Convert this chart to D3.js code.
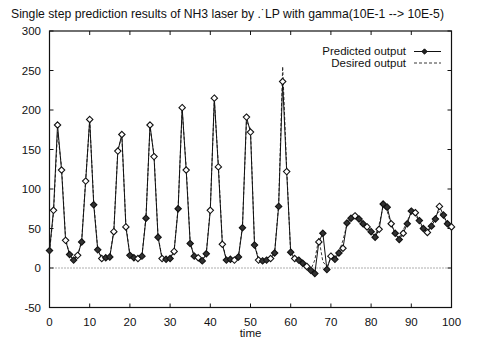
<!DOCTYPE html>
<html>
<head>
<meta charset="utf-8">
<script src="https://cdn.jsdelivr.net/npm/d3@7"></script>
<style>
  html, body { margin: 0; padding: 0; background: #fff; }
  svg { display: block; }
  text { font-family: "Liberation Sans", Arial, sans-serif; fill: #111; }
</style>
</head>
<body>
<svg id="chart" width="499" height="340"></svg>
<script>
const title = "Single step prediction results of NH3 laser by .\u02D9LP with gamma(10E-1 --> 10E-5)";
const xLabel = "time";
const xTicks = [0, 10, 20, 30, 40, 50, 60, 70, 80, 90, 100];
const yTicks = [-50, 0, 50, 100, 150, 200, 250, 300];
const seriesNames = ["Predicted output", "Desired output"];

const predicted = [22, 73, 181, 124, 35, 17, 10, 16, 33, 110,
  188, 80, 23, 12, 13, 14, 46, 148, 169, 52,
  16, 13, 12, 15, 63, 181, 141, 39, 12, 11,
  12, 21, 75, 203, 124, 31, 15, 13, 9, 18,
  73, 215, 128, 30, 10, 11, 10, 14, 51, 191,
  172, 29, 10, 9, 10, 12, 19, 78, 236, 122,
  20, 12, 10, 6, 2, -3, -7, 33, 44, -2,
  15, 11, 19, 25, 57, 63, 66, 62, 56, 52,
  46, 39, 49, 81, 77, 56, 44, 36, 44, 56,
  72, 70, 60, 50, 45, 53, 62, 78, 67, 56, 52];

const desired = [20, 70, 172, 128, 38, 16, 11, 15, 35, 112,
  186, 84, 24, 13, 12, 15, 48, 150, 166, 55,
  17, 12, 13, 16, 65, 178, 144, 40, 13, 10,
  13, 22, 77, 200, 128, 33, 14, 12, 10, 19,
  75, 212, 131, 32, 11, 10, 11, 15, 53, 186,
  176, 31, 11, 10, 9, 13, 20, 80, 255, 126,
  18, 12, 8, 5, 2, -2, 10, 38, 8, 2,
  12, 14, 20, 35, 55, 64, 68, 64, 58, 50,
  44, 40, 55, 78, 72, 55, 42, 38, 48, 60,
  70, 68, 58, 48, 46, 56, 66, 72, 64, 55, 50];

const svg = d3.select("#chart");
const L = 49.5, R = 451.5, T = 31, B = 307.5;

const x = d3.scaleLinear().domain([0, 100]).range([L, R]);
const y = d3.scaleLinear().domain([-50, 300]).range([B, T]);

// title
svg.append("text").attr("x", 11).attr("y", 18)
  .attr("font-size", 12.2).text(title);

// frame
svg.append("rect").attr("x", L).attr("y", T).attr("width", R - L).attr("height", B - T)
  .attr("fill", "none").attr("stroke", "#111").attr("stroke-width", 1.2);

// ticks (inward, all four sides)
const tl = 4;
xTicks.forEach(v => {
  svg.append("line").attr("x1", x(v)).attr("x2", x(v)).attr("y1", B).attr("y2", B - tl)
    .attr("stroke", "#111").attr("stroke-width", 1);
  svg.append("line").attr("x1", x(v)).attr("x2", x(v)).attr("y1", T).attr("y2", T + tl)
    .attr("stroke", "#111").attr("stroke-width", 1);
  svg.append("text").attr("x", x(v)).attr("y", 326).attr("text-anchor", "middle")
    .attr("font-size", 11.5).text(v);
});
yTicks.forEach(v => {
  svg.append("line").attr("x1", L).attr("x2", L + tl).attr("y1", y(v)).attr("y2", y(v))
    .attr("stroke", "#111").attr("stroke-width", 1);
  svg.append("line").attr("x1", R).attr("x2", R - tl).attr("y1", y(v)).attr("y2", y(v))
    .attr("stroke", "#111").attr("stroke-width", 1);
  svg.append("text").attr("x", 41).attr("y", y(v) + 4).attr("text-anchor", "end")
    .attr("font-size", 11.5).text(v);
});

// x label
svg.append("text").attr("x", x(50)).attr("y", 337).attr("text-anchor", "middle")
  .attr("font-size", 11.5).text(xLabel);

// zero line (dotted)
svg.append("line").attr("x1", L).attr("x2", R).attr("y1", y(0)).attr("y2", y(0))
  .attr("stroke", "#333").attr("stroke-width", 0.8).attr("stroke-dasharray", "1,2");

const line = d3.line().x((d, i) => x(i)).y(d => y(d));

// desired (dashed)
svg.append("path").datum(desired).attr("d", line)
  .attr("fill", "none").attr("stroke", "#222").attr("stroke-width", 0.9)
  .attr("stroke-dasharray", "3,2");

// predicted
svg.append("path").datum(predicted).attr("d", line)
  .attr("fill", "none").attr("stroke", "#111").attr("stroke-width", 1);

const diamond = d3.symbol().type(d3.symbolDiamond2).size(26);
svg.append("g").selectAll("path").data(predicted).join("path")
  .attr("d", diamond)
  .attr("transform", (d, i) => `translate(${x(i)},${y(d)})`)
  .attr("fill", (d, i) => (d > 100 || i % 3 === 1) ? "#fff" : "#333")
  .attr("stroke", "#111").attr("stroke-width", 1.1);

// legend
const lx1 = 414, lx2 = 441;
svg.append("text").attr("x", 406).attr("y", 55).attr("text-anchor", "end")
  .attr("font-size", 11.5).text(seriesNames[0]);
svg.append("line").attr("x1", lx1).attr("x2", lx2).attr("y1", 51.5).attr("y2", 51.5)
  .attr("stroke", "#111").attr("stroke-width", 1);
svg.append("path").attr("d", d3.symbol().type(d3.symbolDiamond2).size(18))
  .attr("transform", `translate(${(lx1 + lx2) / 2 - 3},51.5)`)
  .attr("fill", "#222").attr("stroke", "#111").attr("stroke-width", 1);
svg.append("text").attr("x", 406).attr("y", 66.5).attr("text-anchor", "end")
  .attr("font-size", 11.5).text(seriesNames[1]);
svg.append("line").attr("x1", lx1).attr("x2", lx2).attr("y1", 63).attr("y2", 63)
  .attr("stroke", "#222").attr("stroke-width", 0.9).attr("stroke-dasharray", "3,2");
</script>
</body>
</html>
